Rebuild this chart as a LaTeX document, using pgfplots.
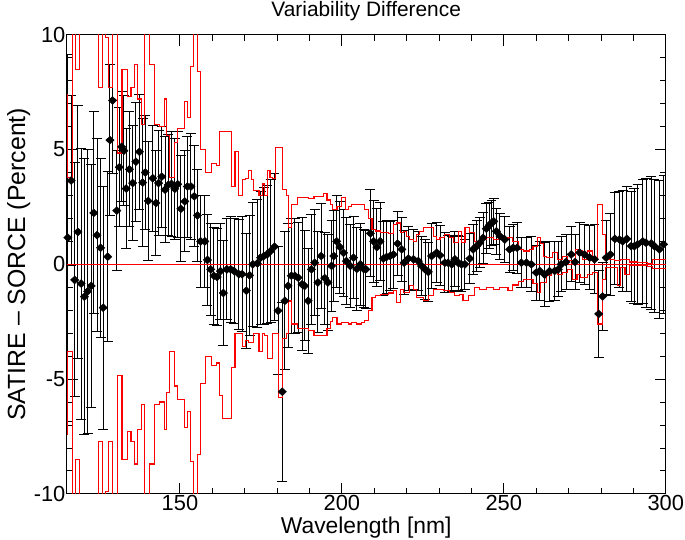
\documentclass[border=0pt]{standalone}
\usepackage{fontspec}
\setmainfont{Liberation Sans}
\usepackage{pgfplots}
\pgfplotsset{compat=1.18}
\usepackage{pgfplotstable}

% SATIRE - SORCE difference with errors
\pgfplotstableread{
x y e
115.4 1.16 8.0
116.4 3.65 3.7
117.5 -0.68 5.1
118.5 1.41 5.5
119.5 -0.84 5.9
120.5 -1.41 6.0
121.5 -1.18 6.2
122.6 -0.94 5.3
123.4 2.24 4.4
124.4 1.27 4.2
125.5 0.72 3.9
126.3 -1.89 5.3
127.7 0.33 3.7
128.4 5.41 3.3
129.2 7.14 3.2
130.5 2.34 2.6
131.3 4.23 2.6
132.0 5.12 2.4
132.7 4.95 2.4
133.4 3.30 2.6
134.4 4.14 2.5
135.4 3.54 2.5
136.4 4.47 2.6
137.5 4.90 2.5
138.5 3.56 2.8
139.3 4.00 2.5
140.2 2.76 2.6
141.6 3.75 2.3
142.6 2.67 2.3
143.4 3.54 2.3
144.4 3.82 2.2
145.4 3.25 2.3
146.4 3.46 2.2
147.4 3.50 2.3
148.4 3.29 2.2
149.3 3.49 2.3
150.3 2.42 2.3
151.5 2.74 2.2
152.3 3.39 2.2
153.4 3.39 2.3
154.4 2.96 2.2
155.4 2.13 2.0
156.4 1.00 2.0
157.7 1.00 2.0
158.5 0.19 2.0
159.5 -0.22 2.0
160.5 -0.50 2.1
161.5 -0.55 2.1
162.5 -0.30 2.1
163.4 -1.25 2.3
164.5 -0.22 2.2
165.7 -0.22 2.3
166.7 -0.29 2.3
168.2 -0.43 2.4
169.2 -0.43 2.5
170.5 -1.15 2.5
171.5 -0.48 2.6
172.5 0.00 2.7
173.9 0.04 2.8
174.9 0.29 2.9
175.9 0.36 3.0
176.9 0.43 3.0
178.0 0.58 3.1
179.2 0.77 3.2
180.3 -2.02 2.8
181.6 -5.55 3.9
182.4 -1.59 3.0
183.4 -0.94 2.7
184.4 -0.50 2.5
185.5 -0.50 2.5
186.5 -0.58 2.4
187.7 -0.87 2.9
188.5 -0.94 2.4
189.6 -1.59 2.3
190.6 -0.22 2.4
191.6 0.07 2.3
192.6 -0.79 2.2
193.6 0.36 2.3
194.7 -0.60 2.0
195.7 -0.79 2.1
196.8 -0.07 2.0
197.5 0.36 2.0
198.4 1.00 2.0
199.4 0.75 2.0
200.5 0.50 1.9
201.4 0.14 1.9
202.6 -0.07 1.8
203.6 0.29 1.8
204.6 -0.20 1.8
205.7 0.00 1.8
206.7 -0.20 1.7
207.4 -0.22 1.7
208.8 1.35 1.9
209.8 1.00 1.8
210.8 0.75 1.7
211.8 1.00 1.7
212.8 0.25 1.6
213.8 0.32 1.6
214.9 0.36 1.5
215.9 0.43 1.5
217.2 0.90 1.4
218.5 0.65 1.4
219.2 0.07 1.4
220.5 0.25 1.4
222.1 0.22 1.3
223.6 0.14 1.3
224.6 -0.07 1.3
225.7 -0.22 1.3
226.7 -0.33 1.3
227.7 0.36 1.4
229.3 0.51 1.3
230.3 0.39 1.3
231.8 0.07 1.3
232.8 0.07 1.2
233.9 0.00 1.2
234.9 0.22 1.2
235.9 0.07 1.2
236.9 0.00 1.2
238.0 0.00 1.1
239.5 0.25 1.1
240.5 0.65 1.1
241.6 0.79 1.1
242.6 0.94 1.1
243.6 1.15 1.1
244.6 1.55 1.1
245.5 1.70 1.0
246.2 1.80 1.0
246.9 1.87 1.0
247.7 1.44 1.0
248.8 1.23 1.0
250.3 1.08 1.0
251.8 0.65 1.0
252.9 0.72 1.0
254.1 0.72 1.1
255.4 0.07 1.1
257.0 0.07 1.1
258.5 0.00 1.2
260.0 -0.36 1.2
261.1 -0.29 1.3
262.6 -0.45 1.4
264.1 -0.30 1.3
265.7 -0.29 1.3
266.8 -0.22 1.2
267.7 0.00 1.2
269.2 0.10 1.2
270.8 0.43 1.2
272.0 0.10 1.2
273.4 0.51 1.3
274.9 0.43 1.3
276.5 0.29 1.4
278.0 0.22 1.5
279.3 -2.16 1.9
280.5 -1.40 1.5
281.6 0.29 1.6
282.9 0.43 1.8
284.3 1.11 2.0
285.7 1.08 2.1
286.7 1.00 2.2
288.0 1.11 2.3
289.3 0.79 2.4
290.3 0.79 2.5
291.3 0.87 2.6
292.9 1.00 2.7
293.9 0.94 2.8
295.5 0.91 2.9
296.5 0.79 2.9
298.0 0.65 3.0
299.3 0.87 3.0
}\diff

% SORCE uncertainty envelope (left bin edges)
\pgfplotstableread{
x u l
115.0 7.4 -7.4
115.4 3.8 -3.8
116.75 12 -12
117.8 8.5 -8.5
119.0 12 -12
124.95 7.7 -7.7
126.0 12 -12
127.0 9.9 -9.9
128.0 7.7 -7.7
129.05 12 -12
130.8 4.85 -4.85
132.1 8.5 -8.5
133.9 7.3 -7.3
134.9 7.7 -7.7
135.9 8.7 -8.7
137.0 7.2 -7.2
138.0 6.1 -6.1
139.0 12 -12
140.5 8.7 -8.7
142.1 6.1 -6.1
143.6 6.0 -6.0
145.2 7.2 -7.2
145.9 5.6 -5.6
146.7 3.8 -3.8
148.2 5.3 -5.3
149.3 5.9 -5.9
151.3 7.1 -7.1
152.3 6.4 -6.4
153.4 8.6 -8.6
154.1 12 -12
155.4 8.4 -8.3
156.4 5.0 -5.2
158.0 4.0 -4.0
159.0 4.0 -4.0
159.8 4.4 -4.4
161.3 4.3 -4.3
162.1 5.8 -5.7
163.1 5.8 -6.7
166.0 3.4 -4.5
167.0 4.9 -3.0
168.0 3.0 -3.0
169.3 3.7 -3.6
170.3 3.75 -3.3
171.3 4.1 -3.4
172.1 3.7 -3.4
172.8 3.2 -3.0
174.4 3.0 -3.8
175.4 3.5 -3.0
176.2 3.0 -3.1
176.9 4.1 -4.1
177.8 3.8 -4.1
178.5 3.75 -3.0
179.5 5.1 -3.0
180.5 5.1 -5.8
181.8 3.25 -3.25
182.8 3.0 -3.0
183.6 1.6 -1.6
184.4 2.6 -2.6
186.2 2.9 -2.8
189.8 2.85 -2.9
191.4 2.95 -3.1
194.4 3.1 -3.1
195.4 2.8 -2.8
196.4 2.6 -2.5
197.0 2.4 -2.3
198.5 2.5 -2.6
200.0 2.9 -2.55
201.0 2.4 -2.55
202.0 2.5 -2.6
203.0 2.6 -2.55
204.6 2.6 -2.6
206.0 2.6 -2.55
207.0 2.4 -2.45
208.2 2.0 -2.0
209.3 1.5 -1.45
210.3 1.45 -1.35
212.0 1.4 -1.3
214.4 1.35 -1.25
215.9 1.73 -1.15
216.9 1.80 -1.66
218.0 1.37 -1.08
219.0 1.44 -1.23
220.0 1.23 -1.23
221.0 1.10 -0.94
222.1 1.01 -1.08
223.1 1.30 -1.44
224.1 1.44 -1.44
225.3 1.59 -1.59
226.7 1.59 -1.37
228.2 1.23 -1.08
229.2 1.08 -1.08
230.3 1.15 -1.08
231.3 1.15 -1.15
231.8 1.30 -1.15
233.3 1.15 -1.23
234.4 0.94 -1.23
234.9 0.94 -1.37
235.9 1.44 -1.37
236.4 1.44 -1.30
236.9 0.94 -1.30
237.4 0.94 -1.59
238.0 1.59 -1.59
239.0 1.59 -1.37
239.5 1.37 -1.37
241.0 1.01 -1.01
242.6 1.08 -1.08
244.6 1.15 -1.01
246.7 1.08 -1.08
248.7 1.08 -1.01
251.3 1.15 -1.15
252.8 1.01 -0.90
254.4 0.65 -0.73
256.0 0.58 -0.65
257.9 0.65 -0.65
259.0 0.79 -0.85
260.5 1.15 -1.23
261.3 0.90 -0.79
262.3 0.36 -0.79
263.1 0.29 -0.50
264.6 0.29 -0.36
265.1 0.51 -0.36
266.7 0.22 -0.43
268.2 0.36 -0.36
269.7 0.15 -0.22
270.8 0.05 -0.22
271.3 0.05 -0.65
272.0 0.65 -0.65
272.6 0.65 -0.43
273.8 0.58 -0.58
274.3 0.22 -0.58
275.9 0.58 -0.43
277.4 0.22 -0.36
279.0 2.6 -2.6
280.5 1.3 -0.65
281.5 0.29 -0.15
282.6 0.22 -0.15
284.1 0.15 -0.15
285.1 0.15 -0.94
286.1 0.22 -0.15
287.4 0.22 -0.43
288.7 0.10 -0.07
291.3 0.07 -0.07
294.4 0.05 -0.10
296.0 0.22 -0.20
298.0 0.22 -0.20
300.0 0.22 -0.20
}\env

\begin{document}
\begin{tikzpicture}
\begin{axis}[
    scale only axis,
    width=603pt, height=462pt,
    xmin=115, xmax=300, ymin=-10, ymax=10,
    xtick={150,200,250,300}, minor x tick num=4,
    ytick={-10,-5,0,5,10}, minor y tick num=4,
    tick align=inside,
    major tick length=11pt, minor tick length=6pt,
    every tick/.style={black, line width=0.9pt},
    axis line style={black, line width=1pt},
    tick label style={font=\fontsize{22}{24}\selectfont, inner sep=1pt},
    /pgf/number format/assume math mode=true,
    title={Variability Difference},
    title style={font=\fontsize{21}{23}\selectfont, inner sep=0pt,
        at={(axis description cs:0.5,1.027)}, anchor=base},
    xlabel={Wavelength [nm]},
    xlabel style={font=\fontsize{23}{25}\selectfont, inner sep=0pt,
        at={(axis description cs:0.5,-0.087)}, anchor=base},
    ylabel={SATIRE -- SORCE (Percent)},
    ylabel style={font=\fontsize{25}{27}\selectfont, inner sep=0pt,
        at={(axis description cs:-0.080,0.5)}, anchor=center, rotate=0},
]
    % difference with error bars
    \addplot[
        black, only marks, mark=diamond*, mark size=4pt,
        mark options={xscale=1.4},
        error bars/.cd, y dir=both, y explicit,
        error bar style={line width=1pt, black},
        error mark options={rotate=90, black, mark size=5pt, line width=1pt}
    ] table[x=x, y=y, y error=e] {\diff};

    % uncertainty envelope
    \addplot[red, line width=1.1pt, const plot, mark=none] table[x=x, y=u] {\env};
    \addplot[red, line width=1.1pt, const plot, mark=none] table[x=x, y=l] {\env};

    % zero line
    \addplot[red, line width=1.1pt, mark=none] coordinates {(115,0) (300,0)};
\end{axis}
\path (-67pt,-46pt) rectangle (618pt,497pt);
\end{tikzpicture}
\end{document}
